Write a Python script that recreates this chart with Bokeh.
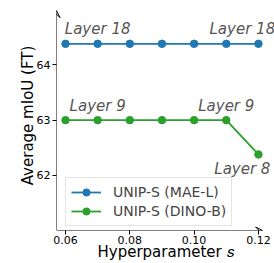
from bokeh.plotting import figure
from bokeh.models import Range1d, FixedTicker, PrintfTickFormatter, Arrow, VeeHead, Legend, ColumnDataSource
from bokeh.core.properties import value
from bokeh.embed import file_html
from bokeh.resources import INLINE

# data
hyper_s = [0.06, 0.07, 0.08, 0.09, 0.10, 0.11, 0.12]
miou_mae_l = [64.38, 64.38, 64.38, 64.38, 64.38, 64.38, 64.38]
miou_dino_b = [63.0, 63.0, 63.0, 63.0, 63.0, 63.0, 62.38]
series_names = ["UNIP-S (MAE-L)", "UNIP-S (DINO-B)"]
series_colors = ["#1f77b4", "#2ca02c"]

label_text = ["Layer 18", "Layer 18", "Layer 9", "Layer 9", "Layer 8"]
label_x = [0.07, 0.115, 0.07, 0.11, 0.115]
label_y = [64.48, 64.48, 63.10, 63.10, 62.28]
label_baseline = ["bottom", "bottom", "bottom", "bottom", "top"]

x_ticks = [0.06, 0.08, 0.10, 0.12]
y_ticks = [62, 63, 64]
x_lo, x_hi, x_axis_end = 0.0572, 0.1250, 0.1213
y_lo, y_hi, y_axis_end = 61.005, 65.163, 64.98

FONT = "DejaVu Sans"

p = figure(width=274, height=263, output_backend="svg", toolbar_location=None,
           x_range=Range1d(x_lo, x_hi), y_range=Range1d(y_lo, y_hi),
           min_border_left=56, min_border_right=0, min_border_top=0, min_border_bottom=33)
p.outline_line_color = None
p.grid.visible = False
p.background_fill_color = "white"
p.border_fill_color = "white"

for ax in (p.xaxis[0], p.yaxis[0]):
    ax.axis_line_color = None
    ax.minor_tick_line_color = None
    ax.major_tick_in = 0
    ax.major_tick_out = 4
    ax.major_tick_line_width = 1
    ax.major_label_text_font = FONT
    ax.major_label_text_font_size = "11px"
    ax.major_label_text_color = "black"
    ax.axis_label_text_font = FONT
    ax.axis_label_text_font_size = "15px"
    ax.axis_label_text_font_style = "normal"
    ax.axis_label_text_color = "black"

p.xaxis.ticker = FixedTicker(ticks=x_ticks)
p.yaxis.ticker = FixedTicker(ticks=y_ticks)
p.xaxis.formatter = PrintfTickFormatter(format="%.2f")
p.yaxis.formatter = PrintfTickFormatter(format="%d")
p.xaxis.axis_label = "Hyperparameter 𝑠"
p.yaxis.axis_label = "Average mIoU (FT)"
p.xaxis.major_label_standoff = 1
p.xaxis.axis_label_standoff = -4
p.yaxis.major_label_standoff = 2
p.yaxis.axis_label_standoff = -3

# axis arrows
p.add_layout(Arrow(end=VeeHead(size=7, line_width=1, line_color="black", fill_color=None),
                   x_start=x_lo, y_start=y_lo, x_end=x_lo, y_end=y_axis_end, line_width=1))
p.add_layout(Arrow(end=VeeHead(size=7, line_width=1, line_color="black", fill_color=None),
                   x_start=x_lo, y_start=y_lo, x_end=x_axis_end, y_end=y_lo, line_width=1))

items = []
for name, ys, col in zip(series_names, [miou_mae_l, miou_dino_b], series_colors):
    r1 = p.line(hyper_s, ys, line_color=col, line_width=1.8)
    r2 = p.scatter(hyper_s, ys, marker="circle", size=7.5, fill_color=col, line_color=col)
    items.append((name, [r1, r2]))

src = ColumnDataSource(dict(x=label_x, y=label_y, t=label_text, b=label_baseline))
p.text(x="x", y="y", text="t", source=src, text_align="center", text_baseline="b",
       text_font=value(FONT), text_font_style="italic", text_font_size="15px", text_color="#555555")

legend = Legend(items=items, location=(9, 4), glyph_width=30, glyph_height=18, label_height=18,
                label_standoff=12, padding=5, spacing=1, margin=0,
                label_text_font=FONT, label_text_font_size="14px",
                border_line_color="#cccccc", border_line_width=1,
                background_fill_alpha=0.8)
p.add_layout(legend)

open("out.html", "w").write(file_html(p, INLINE))
